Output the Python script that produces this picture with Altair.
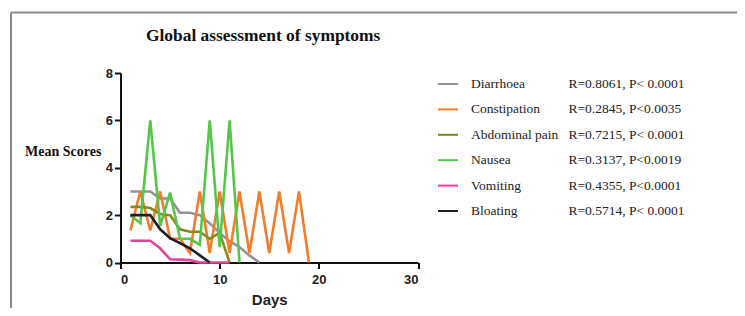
import altair as alt
import pandas as pd

symptoms = ["Diarrhoea", "Constipation", "Abdominal pain", "Nausea", "Vomiting", "Bloating"]
stats = [
    "R=0.8061, P< 0.0001",
    "R=0.2845, P<0.0035",
    "R=0.7215, P< 0.0001",
    "R=0.3137, P<0.0019",
    "R=0.4355, P<0.0001",
    "R=0.5714, P< 0.0001",
]
colors = ["#939393", "#f27c2c", "#838a1e", "#55c64a", "#e4449a", "#1e1e28"]

# mean scores per day, starting at day 1
diarrhoea = [3.0, 3.0, 3.0, 2.7, 2.7, 2.1, 2.1, 2.0, 1.65, 1.25, 0.9, 0.65, 0.3, 0.0]
constipation = [1.35, 3.0, 1.35, 3.0, 1.0, 1.0, 0.4, 3.0, 0.4, 3.0, 0.4, 3.0, 0.4, 3.0, 0.4, 3.0, 0.4, 3.0, 0.0]
abdominal = [2.35, 2.35, 2.3, 2.05, 2.0, 1.4, 1.3, 1.3, 1.0, 1.25, 0.0]
nausea = [2.0, 1.66, 6.0, 1.55, 2.95, 1.0, 1.0, 0.75, 6.0, 0.65, 6.0, 0.0]
vomiting = [0.92, 0.92, 0.92, 0.6, 0.14, 0.12, 0.1, 0.0, 0.0, 0.0, 0.0]
bloating = [2.0, 2.0, 2.0, 1.4, 1.03, 0.82, 0.6, 0.3, 0.0]

series = [diarrhoea, constipation, abdominal, nausea, vomiting, bloating]

x_ticks = [0, 10, 20, 30]
y_ticks = [0, 2, 4, 6, 8]

rows = []
for name, vals in zip(symptoms, series):
    for i, v in enumerate(vals):
        rows.append({"symptom": name, "day": i + 1, "score": v})
df = pd.DataFrame(rows)
leg = pd.DataFrame({"symptom": symptoms, "stat": stats})
one = pd.DataFrame({"a": [0]})

color = alt.Color("symptom:N", scale=alt.Scale(domain=symptoms, range=colors), legend=None)

W, H = 297.5, 189.5

lines = alt.Chart(df).mark_line(strokeWidth=2.6).encode(
    x=alt.X("day:Q", scale=alt.Scale(domain=[0, 30], nice=False),
            axis=alt.Axis(values=x_ticks, title="Days", titleFont="Liberation Sans",
                          titleFontSize=15, titleFontWeight="bold", titleColor="#222",
                          labelPadding=5, titlePadding=6)),
    y=alt.Y("score:Q", scale=alt.Scale(domain=[0, 8], nice=False),
            axis=alt.Axis(values=y_ticks, title=None, labelPadding=2)),
    color=color,
    order=alt.Order("day:Q"),
)

ly = alt.Y("symptom:N", sort=symptoms,
           scale=alt.Scale(type="point", domain=symptoms, range=[11, 138], padding=0), axis=None)

swatch = alt.Chart(leg).mark_rule(strokeWidth=2).encode(
    x=alt.value(317.5), x2=alt.value(337.5), y=ly, color=color)

names = alt.Chart(leg).mark_text(align="left", baseline="middle", font="Liberation Serif",
                                 fontSize=13.5, color="#222").encode(
    x=alt.value(350.5), y=ly, text="symptom:N")

stat_txt = alt.Chart(leg).mark_text(align="left", baseline="middle", font="Liberation Serif",
                                    fontSize=13.5, color="#222").encode(
    x=alt.value(448), y=ly, text="stat:N")

title = alt.Chart(one).mark_text(align="left", baseline="alphabetic", font="Liberation Serif",
                                 fontSize=17.4, fontWeight="bold", color="#111").encode(
    x=alt.value(25.5), y=alt.value(-32), text=alt.value("Global assessment of symptoms"))

ylabel = alt.Chart(one).mark_text(align="left", baseline="middle", font="Liberation Serif",
                                  fontSize=14, fontWeight="bold", color="#111").encode(
    x=alt.value(-95.5), y=alt.value(79), text=alt.value("Mean Scores"))

border_top = alt.Chart(one).mark_rule(color="#8a8a8a", strokeWidth=2).encode(
    x=alt.value(-109.5), x2=alt.value(630), y=alt.value(-60.5))
border_left = alt.Chart(one).mark_rule(color="#8a8a8a", strokeWidth=2).encode(
    x=alt.value(-109.5), y=alt.value(-60.5), y2=alt.value(250))

chart = alt.layer(
    border_top, border_left, lines, swatch, names, stat_txt, title, ylabel
).resolve_scale(y="independent").properties(
    width=W, height=H,
    autosize=alt.AutoSizeParams(type="none"),
    padding={"left": 112.5, "top": 65, "right": 319, "bottom": 45.5},
).configure_view(stroke=None).configure_axis(
    grid=False, domainColor="#111", domainWidth=2, tickColor="#111", tickWidth=2, tickSize=6,
    labelFont="Liberation Sans", labelFontSize=13, labelFontWeight="bold", labelColor="#222",
)

chart.save("out.html", embed_options={"renderer": "svg", "actions": False})
